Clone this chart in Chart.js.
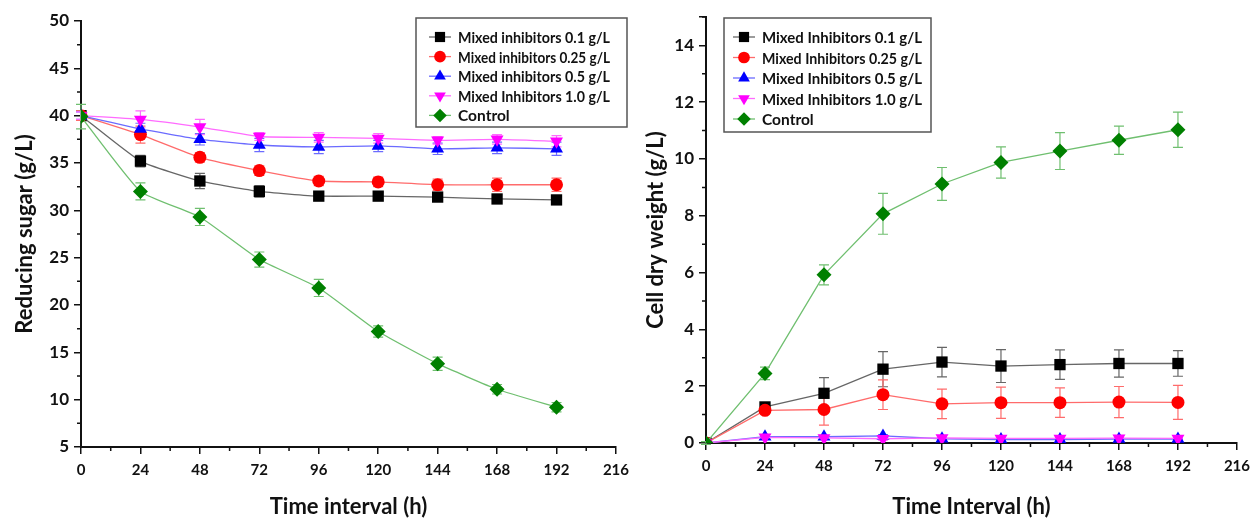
<!DOCTYPE html>
<html>
<head>
<meta charset="utf-8">
<script src="https://cdn.jsdelivr.net/npm/chart.js@4.4.1/dist/chart.umd.min.js"></script>
<style>
  body { margin: 0; background: #fff; width: 1257px; height: 520px; overflow: hidden; position: relative; }
  .panel { position: absolute; top: 0; height: 520px; }
  #leftPanel { left: 0; width: 636px; }
  #rightPanel { left: 636px; width: 621px; }
</style>
</head>
<body>
<div class="panel" id="leftPanel"><canvas id="sugarChart" width="636" height="520"></canvas></div>
<div class="panel" id="rightPanel"><canvas id="cellChart" width="621" height="520"></canvas></div>
<script>
// Sampling times (h)
const hours = [0, 24, 48, 72, 96, 120, 144, 168, 192];

// Reducing sugar (g/L)
const sugarMix01 = [40.0, 35.2, 33.1, 32.0, 31.5, 31.5, 31.4, 31.2, 31.1];
const sugarMix025 = [40.0, 38.0, 35.6, 34.2, 33.1, 33.0, 32.7, 32.7, 32.7];
const sugarMix05 = [40.0, 38.6, 37.5, 36.9, 36.7, 36.8, 36.5, 36.6, 36.5];
const sugarMix10 = [40.0, 39.6, 38.8, 37.8, 37.7, 37.6, 37.4, 37.5, 37.3];
const sugarControl = [39.9, 32.0, 29.3, 24.8, 21.8, 17.2, 13.8, 11.1, 9.2];

const sugarMix01Err = [0.5, 0.6, 0.8, 0.6, 0.4, 0.4, 0.4, 0.4, 0.4];
const sugarMix025Err = [0.5, 0.9, 0.5, 0.5, 0.5, 0.5, 0.6, 0.7, 0.7];
const sugarMix05Err = [0.4, 0.6, 0.6, 0.7, 0.7, 0.6, 0.6, 0.6, 0.7];
const sugarMix10Err = [0.4, 0.9, 0.8, 0.4, 0.5, 0.5, 0.4, 0.5, 0.6];
const sugarControlErr = [1.3, 0.9, 0.9, 0.8, 0.9, 0.6, 0.7, 0.5, 0.5];

// Cell dry weight (g/L)
const cellMix01 = [0, 1.27, 1.75, 2.60, 2.85, 2.71, 2.76, 2.80, 2.80];
const cellMix025 = [0, 1.15, 1.18, 1.70, 1.38, 1.42, 1.42, 1.44, 1.43];
const cellMix05 = [0, 0.22, 0.22, 0.25, 0.15, 0.12, 0.12, 0.14, 0.14];
const cellMix10 = [0, 0.20, 0.18, 0.15, 0.18, 0.16, 0.16, 0.17, 0.16];
const cellControl = [0, 2.45, 5.92, 8.07, 9.12, 9.88, 10.28, 10.66, 11.03];

const cellMix01Err = [0, 0.12, 0.55, 0.62, 0.52, 0.58, 0.52, 0.48, 0.45];
const cellMix025Err = [0, 0.12, 0.55, 0.52, 0.52, 0.55, 0.52, 0.55, 0.60];
const cellMix05Err = [0, 0.05, 0.05, 0.05, 0.03, 0.03, 0.03, 0.03, 0.03];
const cellMix10Err = [0, 0.05, 0.05, 0.05, 0.03, 0.03, 0.03, 0.03, 0.03];
const cellControlErr = [0.05, 0.22, 0.35, 0.72, 0.58, 0.55, 0.65, 0.50, 0.62];

// Legend labels
const sugarLabels = ['Mixed inhibitors 0.1 g/L', 'Mixed inhibitors 0.25 g/L', 'Mixed inhibitors 0.5 g/L', 'Mixed Inhibitors 1.0 g/L', 'Control'];
const cellLabels = ['Mixed Inhibitors 0.1 g/L', 'Mixed Inhibitors 0.25 g/L', 'Mixed Inhibitors 0.5 g/L', 'Mixed Inhibitors 1.0 g/L', 'Control'];

const FONT = 'Lato, "Open Sans", sans-serif';

// marker / line styling per series
const seriesStyle = [
    { marker: '#000000', line: '#666666', pointStyle: 'rect', radius: 8, rotation: 0 },
    { marker: '#ff0000', line: '#ff6b6b', pointStyle: 'circle', radius: 6.5, rotation: 0 },
    { marker: '#0000ff', line: '#6b6bff', pointStyle: 'triangle', radius: 7.5, rotation: 0 },
    { marker: '#ff00ff', line: '#ff6bff', pointStyle: 'triangle', radius: 7.5, rotation: 180 },
    { marker: '#008000', line: '#6fbf6f', pointStyle: 'rectRot', radius: 7.5, rotation: 0 }
];

function makeDatasets(labels, values, errors, tension) {
    return values.map((vals, i) => {
        const s = seriesStyle[i];
        return {
            label: labels[i],
            data: hours.map((h, j) => ({ x: h, y: vals[j] })),
            errors: errors[i],
            borderColor: s.line,
            borderWidth: 1.3,
            backgroundColor: s.marker,
            pointBackgroundColor: s.marker,
            pointBorderColor: s.marker,
            pointBorderWidth: 0,
            pointStyle: s.pointStyle,
            pointRotation: s.rotation,
            pointRadius: s.radius,
            tension: tension,
            order: i === 4 ? 0 : 5 - i
        };
    });
}

// Error bars drawn under the markers
const errorBarPlugin = {
    id: 'errorBars',
    beforeDatasetsDraw(chart) {
        const ctx = chart.ctx;
        const yScale = chart.scales.y;
        ctx.save();
        chart.data.datasets.forEach((ds, i) => {
            const meta = chart.getDatasetMeta(i);
            ctx.strokeStyle = ds.borderColor;
            ctx.lineWidth = 1.2;
            meta.data.forEach((pt, j) => {
                const err = ds.errors[j];
                if (!err) return;
                const v = ds.data[j].y;
                const yTop = yScale.getPixelForValue(v + err);
                const yBot = yScale.getPixelForValue(v - err);
                ctx.beginPath();
                ctx.moveTo(pt.x, yTop); ctx.lineTo(pt.x, yBot);
                ctx.moveTo(pt.x - 5, yTop); ctx.lineTo(pt.x + 5, yTop);
                ctx.moveTo(pt.x - 5, yBot); ctx.lineTo(pt.x + 5, yBot);
                ctx.stroke();
            });
        });
        ctx.restore();
    }
};

// Short minor ticks between the labelled ones
const minorTickPlugin = {
    id: 'minorTicks',
    afterDraw(chart, args, opts) {
        const ctx = chart.ctx;
        const xs = chart.scales.x, ys = chart.scales.y;
        const area = chart.chartArea;
        ctx.save();
        ctx.strokeStyle = '#111';
        ctx.lineWidth = 1.5;
        ctx.beginPath();
        for (let v = xs.min + opts.xStep / 2; v < xs.max; v += opts.xStep) {
            const px = xs.getPixelForValue(v);
            ctx.moveTo(px, area.bottom); ctx.lineTo(px, area.bottom + 4);
        }
        for (let v = ys.min + opts.yStep / 2; v < ys.max + 0.001; v += opts.yStep) {
            const py = ys.getPixelForValue(v);
            ctx.moveTo(area.left, py); ctx.lineTo(area.left - 4, py);
        }
        ctx.stroke();
        ctx.restore();
    }
};

// Boxed legend with line + marker samples
const boxLegendPlugin = {
    id: 'boxLegend',
    afterDraw(chart, args, opts) {
        const ctx = chart.ctx;
        ctx.save();
        ctx.fillStyle = '#fff';
        ctx.fillRect(opts.x, opts.y, opts.w, opts.h);
        ctx.strokeStyle = '#555';
        ctx.lineWidth = 1.5;
        ctx.strokeRect(opts.x, opts.y, opts.w, opts.h);
        chart.data.datasets.forEach((ds, i) => {
            const s = seriesStyle[i];
            const cy = opts.y + opts.firstRow + i * opts.rowH;
            const lx = opts.x + opts.lineX;
            ctx.strokeStyle = s.line;
            ctx.lineWidth = 1.3;
            ctx.beginPath();
            ctx.moveTo(lx, cy); ctx.lineTo(lx + 22, cy);
            ctx.stroke();
            ctx.fillStyle = s.marker;
            ctx.strokeStyle = s.marker;
            Chart.helpers.drawPoint(ctx, { pointStyle: s.pointStyle, rotation: s.rotation, radius: s.radius * 0.9, borderWidth: 0 }, lx + 11, cy);
            ctx.fillStyle = '#111';
            ctx.font = 'bold 15.5px ' + FONT;
            ctx.textBaseline = 'middle';
            ctx.fillText(ds.label, lx + 29, cy + 1, opts.textMax);
        });
        ctx.restore();
    }
};

function makeChart(canvasId, datasets, cfg) {
    return new Chart(document.getElementById(canvasId), {
        type: 'line',
        data: { datasets: datasets },
        plugins: [errorBarPlugin, minorTickPlugin, boxLegendPlugin],
        options: {
            responsive: false,
            animation: false,
            layout: { padding: { top: cfg.padTop, right: cfg.padRight, left: 0, bottom: 0 } },
            plugins: {
                legend: { display: false },
                tooltip: { enabled: false },
                minorTicks: { xStep: 24, yStep: cfg.yStep },
                boxLegend: cfg.legend
            },
            scales: {
                x: {
                    type: 'linear',
                    min: 0, max: 216,
                    afterFit: s => { s.height = cfg.xHeight; },
                    ticks: { stepSize: 24, color: '#111', font: { family: FONT, size: 15, weight: 'bold' }, padding: 7 },
                    grid: { drawOnChartArea: false, tickLength: 7, color: '#111', lineWidth: 1.5 },
                    border: { color: '#111', width: 2 },
                    title: { display: true, text: cfg.xTitle, color: '#111', font: { family: FONT, size: 22, weight: 'bold' }, padding: { top: 0, bottom: 0 } }
                },
                y: {
                    min: cfg.yMin, max: cfg.yMax,
                    afterFit: s => { s.width = cfg.yWidth; },
                    ticks: {
                        stepSize: cfg.yStep, color: '#111', font: { family: FONT, size: 17, weight: 'bold' }, padding: 5,
                        callback: v => (v % cfg.yStep === 0 ? v : '')
                    },
                    grid: { drawOnChartArea: false, tickLength: 7, color: '#111', lineWidth: 1.5 },
                    border: { color: '#111', width: 2 },
                    title: { display: true, text: cfg.yTitle, color: '#111', font: { family: FONT, size: 22, weight: 'bold' }, padding: { top: cfg.yTitlePad, bottom: 0 } }
                }
            }
        }
    });
}

makeChart('sugarChart',
    makeDatasets(sugarLabels,
        [sugarMix01, sugarMix025, sugarMix05, sugarMix10, sugarControl],
        [sugarMix01Err, sugarMix025Err, sugarMix05Err, sugarMix10Err, sugarControlErr], 0.15),
    {
        padTop: 21, padRight: 18, xHeight: 73, yWidth: 81, yTitlePad: 12,
        yMin: 5, yMax: 50, yStep: 5,
        xTitle: 'Time interval (h)', yTitle: 'Reducing sugar (g/L)',
        legend: { x: 416, y: 18, w: 211, h: 109, firstRow: 19, rowH: 19.6, lineX: 13, textMax: 152 }
    });

makeChart('cellChart',
    makeDatasets(cellLabels,
        [cellMix01, cellMix025, cellMix05, cellMix10, cellControl],
        [cellMix01Err, cellMix025Err, cellMix05Err, cellMix10Err, cellControlErr], 0),
    {
        padTop: 17, padRight: 15, xHeight: 77, yWidth: 70, yTitlePad: 7,
        yMin: 0, yMax: 15, yStep: 2,
        xTitle: 'Time Interval (h)', yTitle: 'Cell dry weight (g/L)',
        legend: { x: 88, y: 18, w: 207, h: 114, firstRow: 19, rowH: 20.5, lineX: 9, textMax: 160 }
    });
</script>
</body>
</html>
